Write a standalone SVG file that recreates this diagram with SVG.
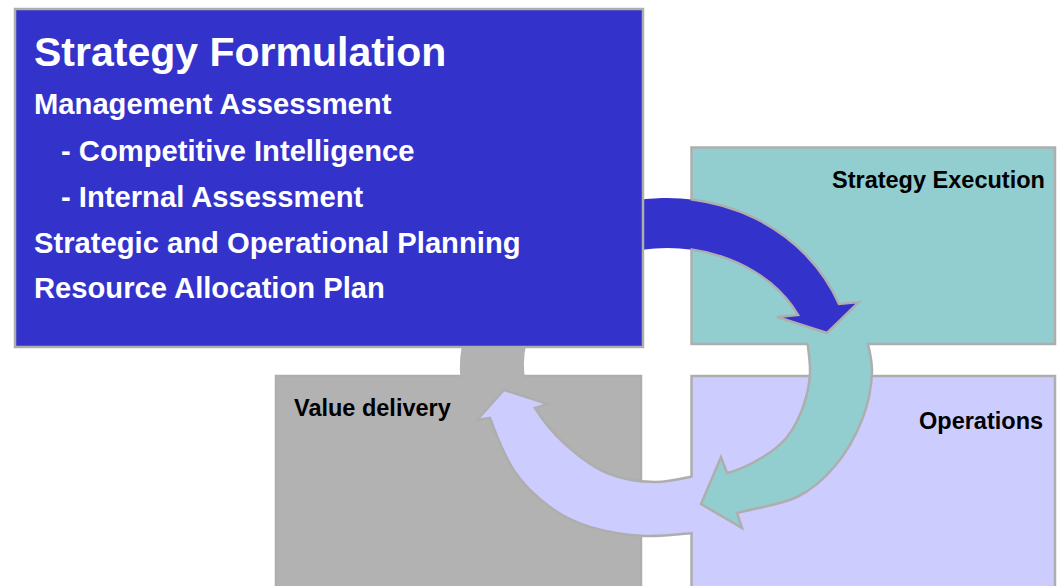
<svg xmlns="http://www.w3.org/2000/svg" width="1059" height="586" viewBox="0 0 1059 586">
<style>
.box{stroke:#AEAEAE;stroke-width:2.5}
.ol{fill:none;stroke:#AEAEAE;stroke-width:2.5;stroke-linejoin:miter}
.big{font-family:"Liberation Sans",Arial,sans-serif;font-weight:bold;fill:#fff}
.lbl{font-family:"Liberation Sans",Arial,sans-serif;font-weight:bold;font-size:23.5px;fill:#000}
</style>
<defs>
<clipPath id="cBlue"><rect x="690.5" y="0" width="370" height="586"/></clipPath>
<clipPath id="cTeal"><rect x="0" y="343" width="1059" height="300"/></clipPath>
<clipPath id="cLav"><rect x="0" y="0" width="692.6" height="586"/></clipPath>
<path id="aGray" d="M 463,398 A 205 168 0 0 1 468,322 L 534,322 A 143 117 0 0 0 530,398 Z"/>
<path id="aLav" d="M 705,532 C 685,533.3 664.2,536.8 645,536 C 625.8,535.2 605.8,531.8 590,527 C 574.2,522.2 562.5,516.2 550,507 C 537.5,497.8 525,486.8 515,472 C 505,457.2 495.7,433.7 490,418 L 477,420 L 504,390 L 548,404 L 535,408 C 543.3,421.3 553,433.2 565,444 C 577,454.8 592,466.7 607,473 C 622,479.3 638.7,481.8 655,482 C 671.3,482.2 688.3,476.7 705,474 Z"/>
<path id="aTeal" d="M 865,330 C 867.3,344 872.5,357 872,372 C 871.5,387 868.2,404.3 862,420 C 855.8,435.7 845.8,453.2 835,466 C 824.2,478.8 813.3,489.2 797,497 C 780.7,504.8 757,507.7 737,513 L 742,528 L 701,504 L 721,457 L 727,473 C 739,470.3 753,463 763,457 C 773,451 780.3,445.3 787,437 C 793.7,428.7 799.2,417.7 803,407 C 806.8,396.3 809.5,385.8 810,373 C 810.5,360.2 807.3,344.3 806,330 Z"/>
<path id="aBlue" d="M 630,201.4 A 185 168 0 0 1 839,304 L 859,302 L 827,333 L 777,317 L 798,315 A 145 118 0 0 0 630,252 Z"/>
</defs>
<rect width="1059" height="586" fill="#fff"/>
<g id="value-delivery">
<rect class="box" x="276" y="376" width="365" height="230" fill="#B2B2B2"/>
<text class="lbl" x="294" y="416">Value delivery</text>
</g>
<g id="operations">
<rect class="box" x="691.5" y="376" width="363.5" height="230" fill="#CCCCFF"/>
<text class="lbl" x="919" y="429">Operations</text>
</g>
<g id="strategy-execution">
<rect class="box" x="691.5" y="147.5" width="363.5" height="196.5" fill="#92CDD0"/>
<text class="lbl" x="832" y="188">Strategy Execution</text>
</g>
<g id="connectors">
<use href="#aGray" fill="#B2B2B2"/>
<use href="#aLav" fill="#CCCCFF"/>
<use href="#aLav" class="ol" clip-path="url(#cLav)"/>
<use href="#aTeal" fill="#92CDD0"/>
<use href="#aTeal" class="ol" clip-path="url(#cTeal)"/>
<use href="#aBlue" fill="#3333CC"/>
<use href="#aBlue" class="ol" clip-path="url(#cBlue)"/>
</g>
<g id="strategy-formulation">
<rect class="box" x="15" y="9" width="628" height="338" fill="#3333CC"/>
<text class="big" x="34" y="66" font-size="41">Strategy Formulation</text>
<text class="big" x="34" y="114" font-size="29.2">Management Assessment</text>
<text class="big" x="61" y="161" font-size="29.2">- Competitive Intelligence</text>
<text class="big" x="61" y="207" font-size="29.2">- Internal Assessment</text>
<text class="big" x="34" y="253" font-size="29.2">Strategic and Operational Planning</text>
<text class="big" x="34" y="298" font-size="29.2">Resource Allocation Plan</text>
</g>
</svg>
